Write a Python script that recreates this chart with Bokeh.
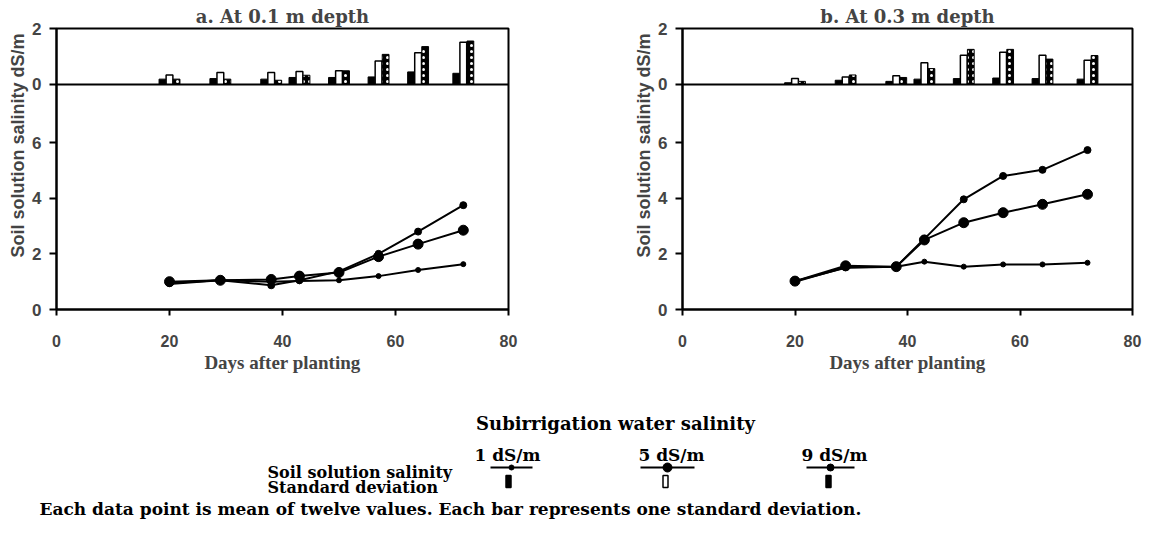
from bokeh.plotting import figure
from bokeh.layouts import column, row
from bokeh.models import Range1d, Title, FixedTicker
from bokeh.transform import dodge
from bokeh.core.properties import value
from bokeh.embed import file_html
from bokeh.resources import INLINE

# ---------------- data ----------------
days = [20, 29, 38, 43, 50, 57, 64, 72]

# soil solution salinity (dS/m), panel a (0.1 m depth)
a_line_1 = [0.92, 1.05, 1.00, 1.02, 1.05, 1.20, 1.42, 1.63]
a_line_5 = [1.00, 1.05, 1.08, 1.20, 1.33, 1.90, 2.35, 2.85]
a_line_9 = [0.95, 1.05, 0.87, 1.05, 1.37, 2.00, 2.80, 3.75]
# panel b (0.3 m depth)
b_line_1 = [1.02, 1.50, 1.54, 1.72, 1.54, 1.62, 1.62, 1.68]
b_line_5 = [1.02, 1.57, 1.54, 2.50, 3.12, 3.48, 3.78, 4.14]
b_line_9 = [1.00, 1.52, 1.54, 2.54, 3.96, 4.80, 5.02, 5.73]

# standard deviations
a_sd_1 = [0.18, 0.20, 0.18, 0.24, 0.24, 0.26, 0.44, 0.39]
a_sd_5 = [0.33, 0.42, 0.42, 0.45, 0.48, 0.83, 1.13, 1.51]
a_sd_9 = [0.18, 0.18, 0.14, 0.32, 0.48, 1.07, 1.35, 1.55]
b_sd_1 = [0.05, 0.14, 0.10, 0.18, 0.20, 0.22, 0.20, 0.18]
b_sd_5 = [0.20, 0.26, 0.30, 0.77, 1.04, 1.15, 1.04, 0.86]
b_sd_9 = [0.10, 0.33, 0.24, 0.56, 1.25, 1.25, 0.90, 1.03]

x_ticks = [0, 20, 40, 60, 80]
low_ticks = [0, 2, 4, 6]
sd_ticks = [0, 2]
low_max = 8.1      # top of lower section (break line)
sd_max = 2.0       # top of SD section

panel_titles = ["a. At 0.1 m depth", "b. At 0.3 m depth"]
y_title = "Soil solution salinity dS/m"
x_title = "Days after planting"
series_names = ["1 dS/m", "5 dS/m", "9 dS/m"]
legend_title = "Subirrigation water salinity"
legend_rows = ["Soil solution salinity", "Standard deviation"]
footnote = "Each data point is mean of twelve values. Each bar represents one standard deviation."

SERIF = "DejaVu Serif"
SANS = "Liberation Sans"

TOP_B, FRAME_H, BOT_B = 28, 281, 70


def make_panel(title, lines, sds, left_b, frame_w, right_b):
    p = figure(width=left_b + frame_w + right_b, height=TOP_B + FRAME_H + BOT_B,
               x_range=Range1d(0, 80), y_range=Range1d(0, low_max + sd_max),
               output_backend="svg", toolbar_location=None,
               min_border_left=left_b, min_border_right=right_b,
               min_border_top=TOP_B, min_border_bottom=BOT_B, title=title)
    p.extra_y_ranges = {"sd": Range1d(-low_max, sd_max)}
    p.title.align = "center"
    p.title.text_font = SERIF
    p.title.text_font_style = "bold"
    p.title.text_font_size = "18px"
    p.title.standoff = 3
    p.xgrid.visible = False
    p.ygrid.visible = False
    p.outline_line_color = "black"
    p.outline_line_width = 2
    p.background_fill_color = "white"
    p.border_fill_color = "white"

    # axes
    p.xaxis.ticker = FixedTicker(ticks=x_ticks)
    p.xaxis.axis_label = x_title
    p.xaxis.axis_label_text_font = "Liberation Serif"
    p.xaxis.axis_label_text_font_style = "bold"
    p.xaxis.axis_label_text_font_size = "19px"
    p.xaxis.axis_label_standoff = 2
    p.xaxis.major_label_text_font = SANS
    p.xaxis.major_label_text_font_style = "bold"
    p.xaxis.major_label_text_font_size = "16px"
    p.xaxis.major_label_standoff = 19
    p.xaxis.major_tick_out = 6
    p.xaxis.major_tick_in = 0
    p.xaxis.minor_tick_out = 0
    p.xaxis.minor_tick_in = 0
    p.xaxis.axis_line_width = 2
    p.xaxis.major_tick_line_width = 2

    yt = low_ticks + [low_max + t for t in sd_ticks]
    p.yaxis.ticker = FixedTicker(ticks=yt)
    p.yaxis.major_label_overrides = {low_max + t: str(t) for t in sd_ticks}
    p.yaxis.major_label_text_font = SANS
    p.yaxis.major_label_text_font_style = "bold"
    p.yaxis.major_label_text_font_size = "17px"
    p.yaxis.major_label_standoff = 8
    p.yaxis.major_tick_out = 7
    p.yaxis.major_tick_in = 0
    p.yaxis.minor_tick_out = 0
    p.yaxis.minor_tick_in = 0
    p.yaxis.axis_line_width = 2
    p.yaxis.major_tick_line_width = 2

    # y title spanning both sections
    p.add_layout(Title(text=y_title, align="left", offset=52, standoff=4,
                       text_font=SANS, text_font_style="bold",
                       text_font_size="18px"), "left")

    # break line: zero of SD section
    p.hspan(y=[0], y_range_name="sd", line_color="black", line_width=2)

    # SD bars
    s1, s5, s9 = sds
    bw = 1.2
    p.vbar(x=dodge("x", -1.25, range=p.x_range), top="t", bottom=0, width=bw,
           source=dict(x=days, t=s1), y_range_name="sd",
           fill_color="black", line_color="black", line_width=1)
    p.vbar(x=dodge("x", 0.0, range=p.x_range), top="t", bottom=0, width=bw,
           source=dict(x=days, t=s5), y_range_name="sd",
           fill_color="white", line_color="black", line_width=1.5)
    p.vbar(x=dodge("x", 1.25, range=p.x_range), top="t", bottom=0, width=bw,
           source=dict(x=days, t=s9), y_range_name="sd",
           fill_color="black", line_color="black", line_width=1,
           hatch_pattern="dot", hatch_color="white", hatch_scale=6, hatch_weight=1.5)

    # lines
    l1, l5, l9 = lines
    for vals, size in ((l1, 5), (l9, 7), (l5, 10)):
        p.line(days, vals, line_color="black", line_width=2)
        p.scatter(days, vals, size=size, marker="circle",
                  fill_color="black", line_color="black")
    return p


pa = make_panel(panel_titles[0], (a_line_1, a_line_5, a_line_9),
                (a_sd_1, a_sd_5, a_sd_9), 56, 452, 18)
pb = make_panel(panel_titles[1], (b_line_1, b_line_5, b_line_9),
                (b_sd_1, b_sd_5, b_sd_9), 156, 450, 12)

TOTAL_W = (56 + 452 + 18) + (156 + 450 + 12)

# ---------------- legend / footnote (page-pixel coordinates) ----------------
lg_top = 8 + TOP_B + FRAME_H + BOT_B
lg_bottom = 527
lg = figure(width=TOTAL_W, height=lg_bottom - lg_top, x_range=Range1d(8, 8 + TOTAL_W),
            y_range=Range1d(lg_bottom, lg_top), output_backend="svg",
            toolbar_location=None, min_border=0, title=None,
            x_axis_location=None, y_axis_location=None)
lg.grid.visible = False
lg.outline_line_color = None

txt = dict(text_font=value(SERIF), text_font_style="bold", text_color="black",
           text_baseline="alphabetic")
lg.text(x=[623], y=[431], text=[legend_title], text_align="center",
        text_font_size="18px", **txt)
lg.text(x=[515, 679, 842], y=[462] * 3, text=series_names, text_align="center",
        text_font_size="17px", **txt)
lg.text(x=[275], y=[480], text=[legend_rows[0]], text_align="left",
        text_font_size="16px", **txt)
lg.text(x=[275], y=[495], text=[legend_rows[1]], text_align="left",
        text_font_size="16px", **txt)
lg.text(x=[47], y=[516], text=[footnote], text_align="left",
        text_font_size="17px", **txt)

# line samples
cx = [519, 675, 838]
half = [21, 27, 24]
for c, h, size in zip(cx, half, (5, 9, 7)):
    lg.line([c - h, c + h], [475, 475], line_color="black", line_width=2)
    lg.scatter([c], [475], size=size, marker="circle", fill_color="black",
               line_color="black")
# bar samples
bx = [516, 673, 836]
lg.quad(left=[c - 2.5 for c in bx], right=[c + 2.5 for c in bx],
        top=[483] * 3, bottom=[495] * 3,
        fill_color=["black", "white", "black"], line_color="black", line_width=1.5)

layout = column(row(pa, pb), lg)
open("out.html", "w").write(file_html(layout, INLINE))
